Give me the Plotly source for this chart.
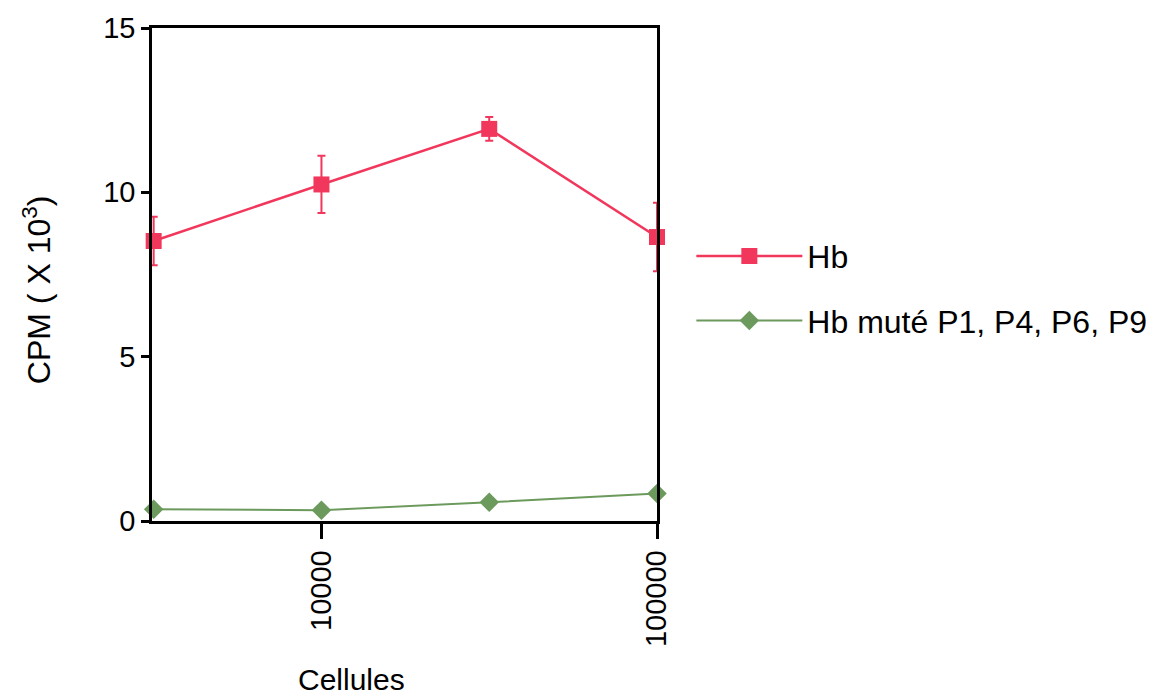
import plotly.graph_objects as go

# Cell counts (log scale) and CPM values (x 10^3)
cells = [3162, 10000, 31623, 100000]
hb_cpm = [8.52, 10.24, 11.93, 8.64]
hb_err = [0.74, 0.87, 0.36, 1.04]
hb_mut_cpm = [0.36, 0.33, 0.57, 0.84]

x_ticks = [10000, 100000]
x_tick_text = ["10000", "100000"]
y_ticks = [0, 5, 10, 15]

RED = "#F2375C"
GREEN = "#6B9A5C"
FONT = "Liberation Sans, Arial, sans-serif"

fig = go.Figure()

fig.add_trace(go.Scatter(
    x=cells, y=hb_cpm, name="Hb", mode="lines+markers",
    line=dict(color=RED, width=2.5),
    marker=dict(symbol="square", size=16, color=RED),
    error_y=dict(type="data", array=hb_err, visible=True,
                 color=RED, thickness=2, width=4),
    legendgroup="a", cliponaxis=False,
))
fig.add_trace(go.Scatter(
    x=cells, y=hb_mut_cpm, name="Hb muté P1, P4, P6, P9", mode="lines+markers",
    line=dict(color=GREEN, width=2),
    marker=dict(symbol="diamond", size=15, color=GREEN),
    legendgroup="b", cliponaxis=False,
))

fig.update_layout(
    width=1176, height=698,
    margin=dict(l=152, r=519, t=22, b=177),
    paper_bgcolor="white", plot_bgcolor="white",
    font=dict(family=FONT, size=29, color="black"),
    showlegend=True,
    legend=dict(
        x=1.068, y=0.593, xanchor="left", yanchor="top",
        font=dict(size=32), itemwidth=106,
        traceorder="grouped", tracegroupgap=20,
        bgcolor="rgba(0,0,0,0)",
    ),
    annotations=[
        dict(text="Cellules", xref="paper", yref="paper",
             x=0.396, y=-0.321, xanchor="center", yanchor="middle",
             showarrow=False, font=dict(size=30)),
        dict(text="CPM ( X 10<sup>3</sup>)", xref="paper", yref="paper",
             x=-0.229, y=0.469, xanchor="center", yanchor="middle",
             textangle=-90, showarrow=False, font=dict(size=32)),
    ],
)

fig.update_xaxes(
    type="log", range=[3.495, 5.0],
    tickvals=x_ticks, ticktext=x_tick_text, tickangle=-90,
    ticks="outside", ticklen=15, tickwidth=2.5, tickcolor="black",
    showline=True, linecolor="black", linewidth=2.5, mirror=True,
    showgrid=False, zeroline=False,
)
fig.update_yaxes(
    range=[0, 15], tickvals=y_ticks,
    ticks="outside", ticklen=8, tickwidth=2.5, tickcolor="black",
    showline=True, linecolor="black", linewidth=2.5, mirror=True,
    showgrid=False, zeroline=False,
)

fig.write_html("out.html")
